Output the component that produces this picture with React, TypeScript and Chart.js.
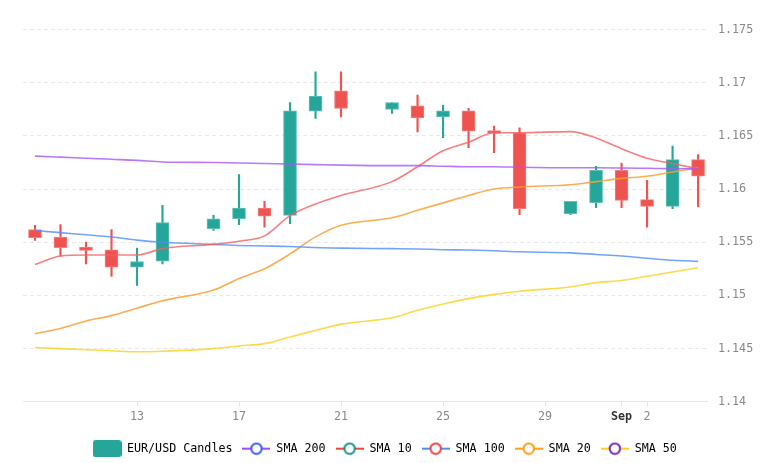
import { useEffect, useRef } from "react";
import { Chart, registerables } from "chart.js";

Chart.register(...registerables);

// Daily candles (weekend gaps on 15th, 22nd, 29th)
const DATES = [
  "2025-08-09", "2025-08-10", "2025-08-11", "2025-08-12", "2025-08-13", "2025-08-14",
  "2025-08-16", "2025-08-17", "2025-08-18", "2025-08-19", "2025-08-20", "2025-08-21",
  "2025-08-23", "2025-08-24", "2025-08-25", "2025-08-26", "2025-08-27", "2025-08-28",
  "2025-08-30", "2025-08-31", "2025-09-01", "2025-09-02", "2025-09-03", "2025-09-04",
];

const OPEN = [
  1.15618, 1.15548, 1.15454, 1.15429, 1.15265, 1.15322,
  1.15627, 1.15721, 1.15821, 1.15752, 1.16732, 1.16924,
  1.16748, 1.16782, 1.16679, 1.16735, 1.16549, 1.16528,
  1.15768, 1.15872, 1.16176, 1.159, 1.15837, 1.16277,
];
const HIGH = [
  1.15658, 1.15665, 1.15501, 1.1562, 1.15444, 1.15847,
  1.15752, 1.16136, 1.15884, 1.16814, 1.17103, 1.17103,
  1.16814, 1.16883, 1.16789, 1.16758, 1.16591, 1.16575,
  1.15884, 1.16214, 1.16245, 1.16082, 1.16405, 1.16324,
];
const LOW = [
  1.15517, 1.15369, 1.15297, 1.15178, 1.15093, 1.15297,
  1.15611, 1.15665, 1.15642, 1.15674, 1.16663, 1.16679,
  1.16711, 1.16537, 1.16484, 1.1639, 1.16341, 1.15759,
  1.15759, 1.15825, 1.15825, 1.15642, 1.15816, 1.15831,
];
const CLOSE = [
  1.15542, 1.15448, 1.15423, 1.15265, 1.15319, 1.15686,
  1.15721, 1.15821, 1.15746, 1.16735, 1.16874, 1.16758,
  1.16814, 1.16669, 1.16735, 1.16544, 1.16522, 1.15816,
  1.15884, 1.16176, 1.15894, 1.15837, 1.16277, 1.1612,
];

const SMA_200 = [
  1.1631, 1.163, 1.1629, 1.1628, 1.1627, 1.16255,
  1.1625, 1.16245, 1.1624, 1.16235, 1.1623, 1.16225,
  1.1622, 1.1622, 1.16215, 1.1621, 1.1621, 1.16205,
  1.162, 1.162, 1.16198, 1.16195, 1.16192, 1.1619,
];
const SMA_10 = [
  1.1529, 1.1537, 1.1538, 1.1538, 1.1538, 1.1544,
  1.1548, 1.1551, 1.1556, 1.1575, 1.1586, 1.1594,
  1.1607, 1.1621, 1.1636, 1.1644, 1.1653, 1.1653,
  1.1654, 1.1648, 1.1638, 1.1629, 1.1624, 1.1619,
];
const SMA_100 = [
  1.1561, 1.1559, 1.1557, 1.1555, 1.1552, 1.155,
  1.1548, 1.1547, 1.15465, 1.1546, 1.1545, 1.15445,
  1.1544, 1.15437, 1.1543, 1.15427, 1.1542, 1.1541,
  1.154, 1.15385, 1.1537, 1.1535, 1.1533, 1.1532,
];
const SMA_20 = [
  1.1464, 1.1469, 1.1476, 1.1481, 1.1488, 1.1495,
  1.1505, 1.1516, 1.1525, 1.1539, 1.1555, 1.1566,
  1.1573, 1.158, 1.1587, 1.1594, 1.16, 1.1602,
  1.1604, 1.1607, 1.161, 1.1612, 1.1616, 1.162,
];
const SMA_50 = [
  1.1451, 1.145, 1.1449, 1.1448, 1.1447, 1.14475,
  1.145, 1.14525, 1.14547, 1.1461, 1.1467, 1.1473,
  1.1479, 1.1486, 1.1492, 1.1497, 1.1501, 1.1504,
  1.1508, 1.1512, 1.1514, 1.1518, 1.1522, 1.1526,
];

const TICK_DATES = ["2025-08-13", "2025-08-17", "2025-08-21", "2025-08-25", "2025-08-29", "2025-09-01", "2025-09-02"];
const TICK_LABELS = ["13", "17", "21", "25", "29", "Sep", "2"];

const FONT = "'DejaVu Sans Mono', monospace";
const FONT_SIZE = 11.7;
const UP = "#26a69a";
const DOWN = "#ef5350";

// line colour in the plot, and the (mismatched) circle colour shown in the legend
const SMA_SERIES = [
  { label: "SMA 200", data: SMA_200, color: "rgba(168, 85, 247, 0.8)", legendLine: "#a24df5", legendCircle: "#3d5afe" },
  { label: "SMA 10", data: SMA_10, color: "rgba(244, 96, 96, 0.8)", legendLine: "#f04438", legendCircle: "#16968a" },
  { label: "SMA 100", data: SMA_100, color: "rgba(80, 140, 250, 0.8)", legendLine: "#4d8ff7", legendCircle: "#ef4444" },
  { label: "SMA 20", data: SMA_20, color: "rgba(250, 160, 50, 0.85)", legendLine: "#ff9f1a", legendCircle: "#ff9f1a" },
  { label: "SMA 50", data: SMA_50, color: "rgba(252, 211, 40, 0.85)", legendLine: "#ffd21f", legendCircle: "#7b2cbf" },
];

const dayOf = (d: string) => Date.parse(d + "T00:00:00Z") / 86400000;

function lineMarker(line: string, circle: string) {
  const c = document.createElement("canvas");
  c.width = 28;
  c.height = 14;
  const ctx = c.getContext("2d")!;
  ctx.strokeStyle = line;
  ctx.lineWidth = 2;
  ctx.beginPath();
  ctx.moveTo(0, 7);
  ctx.lineTo(28, 7);
  ctx.stroke();
  ctx.beginPath();
  ctx.arc(14, 7, 5.2, 0, Math.PI * 2);
  ctx.fillStyle = "#fff";
  ctx.fill();
  ctx.strokeStyle = circle;
  ctx.lineWidth = 2;
  ctx.stroke();
  return c;
}

function boxMarker(color: string) {
  const c = document.createElement("canvas");
  c.width = 29;
  c.height = 17;
  const ctx = c.getContext("2d")!;
  ctx.fillStyle = color;
  ctx.beginPath();
  ctx.roundRect(0, 0, 29, 17, 3);
  ctx.fill();
  return c;
}

export default function App() {
  const canvasRef = useRef<HTMLCanvasElement>(null);
  const chartRef = useRef<Chart | null>(null);

  useEffect(() => {
    if (!canvasRef.current) return;
    if (chartRef.current) chartRef.current.destroy();

    const xs = DATES.map(dayOf);
    const colors = OPEN.map((o, i) => (CLOSE[i] >= o ? UP : DOWN));
    const borders = OPEN.map((o, i) => (CLOSE[i] >= o ? "#5cc0b5" : "#f47f7c"));

    const legendItems = [
      { text: "EUR/USD Candles", pointStyle: boxMarker(UP) },
      ...SMA_SERIES.map((s) => ({ text: s.label, pointStyle: lineMarker(s.legendLine, s.legendCircle) })),
    ];

    chartRef.current = new Chart(canvasRef.current, {
      type: "bar",
      data: {
        datasets: [
          ...SMA_SERIES.map((s) => ({
            type: "line" as const,
            label: s.label,
            data: xs.map((x, i) => ({ x, y: s.data[i] })),
            borderColor: s.color,
            borderWidth: 1.6,
            pointRadius: 0,
            cubicInterpolationMode: "monotone" as const,
            order: 0,
          })),
          {
            label: "EUR/USD Candles",
            data: xs.map((x, i) => ({ x, y: [OPEN[i], CLOSE[i]] })),
            backgroundColor: colors,
            borderColor: borders,
            borderWidth: 1,
            borderSkipped: false,
            barThickness: 13,
            grouped: false,
            order: 1,
          },
          {
            label: "wicks",
            data: xs.map((x, i) => ({ x, y: [LOW[i], HIGH[i]] })),
            backgroundColor: colors,
            barThickness: 1.5,
            grouped: false,
            order: 2,
          },
        ] as any,
      },
      options: {
        animation: false,
        responsive: false,
        layout: { padding: { left: 0, top: 29.5, right: 0, bottom: -1.5 } },
        plugins: {
          tooltip: { enabled: false },
          legend: {
            position: "bottom",
            labels: {
              usePointStyle: true,
              pointStyleWidth: 28,
              padding: 10,
              color: "#777",
              font: { family: FONT, size: FONT_SIZE, lineHeight: 1 },
              generateLabels: () =>
                legendItems.map((it, i) => ({
                  text: it.text,
                  pointStyle: it.pointStyle,
                  fillStyle: "transparent",
                  strokeStyle: "transparent",
                  lineWidth: 0,
                  hidden: false,
                  datasetIndex: i,
                })) as any,
            },
          },
        },
        scales: {
          x: {
            type: "linear",
            min: dayOf("2025-08-09") - 0.47,
            max: dayOf("2025-09-04") + 0.35,
            offset: false,
            afterBuildTicks: (s: any) => {
              s.ticks = TICK_DATES.map((d) => ({ value: dayOf(d) }));
            },
            afterFit: (s: any) => {
              s.height = 31;
            },
            ticks: {
              autoSkip: false,
              maxRotation: 0,
              padding: 3,
              color: (c: any) => (c.index === 5 ? "#333" : "#888"),
              font: (c: any) => ({ family: FONT, size: FONT_SIZE, weight: c.index === 5 ? "bold" : "normal" }),
              callback: (_v: any, i: number) => TICK_LABELS[i],
            },
            grid: { drawOnChartArea: false, drawTicks: true, tickLength: 5, color: "#e6e6e6", offset: false },
            border: { display: true, color: "#e6e6e6" },
          },
          y: {
            position: "right",
            min: 1.14,
            max: 1.175,
            afterFit: (s: any) => {
              s.width = 63;
            },
            ticks: {
              stepSize: 0.005,
              padding: 11,
              color: "#888",
              font: { family: FONT, size: FONT_SIZE },
              callback: (v: any) => String(+(+v).toFixed(3)),
            },
            grid: { color: "#e8e8e8", drawTicks: false },
            border: { display: false, dash: [4, 3] },
          },
          // empty left gutter so the legend stays centred on the whole canvas
          gutter: {
            type: "linear",
            position: "left",
            display: true,
            ticks: { display: false },
            grid: { display: false, drawTicks: false },
            border: { display: false },
            afterFit: (s: any) => {
              s.width = 23;
            },
          },
        },
      } as any,
    });

    return () => {
      if (chartRef.current) {
        chartRef.current.destroy();
        chartRef.current = null;
      }
    };
  }, []);

  return (
    <div style={{ position: "absolute", left: 0, top: 0, width: 770, height: 463, background: "#fff" }}>
      <canvas ref={canvasRef} width={770} height={463} style={{ display: "block" }} />
    </div>
  );
}
